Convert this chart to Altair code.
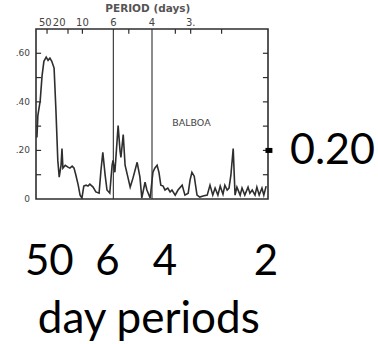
import altair as alt
import pandas as pd

# Spectrum (frequency in cycles/day, normalized power)
freq = [0.002, 0.004, 0.009, 0.013, 0.017, 0.022, 0.026, 0.030, 0.034, 0.039,
        0.043, 0.047, 0.050, 0.054, 0.056, 0.058, 0.063, 0.069, 0.073, 0.078,
        0.082, 0.086, 0.091, 0.095, 0.099, 0.103, 0.108, 0.112, 0.116, 0.123,
        0.129, 0.136, 0.140, 0.144, 0.149, 0.153, 0.159, 0.164, 0.166, 0.170,
        0.177, 0.181, 0.183, 0.188, 0.192, 0.198, 0.203, 0.209, 0.218, 0.224,
        0.228, 0.235, 0.239, 0.246, 0.252, 0.256, 0.261, 0.265, 0.269, 0.274,
        0.278, 0.284, 0.289, 0.293, 0.300, 0.306, 0.315, 0.321, 0.328, 0.332,
        0.336, 0.341, 0.347, 0.353, 0.360, 0.369, 0.375, 0.381, 0.386, 0.392,
        0.397, 0.403, 0.407, 0.412, 0.416, 0.420, 0.425, 0.429, 0.433, 0.440,
        0.444, 0.450, 0.457, 0.461, 0.466, 0.472, 0.476, 0.481, 0.487, 0.491,
        0.496]
power = [0.253, 0.343, 0.404, 0.506, 0.567, 0.584, 0.571, 0.580, 0.567, 0.539,
         0.363, 0.159, 0.090, 0.139, 0.208, 0.127, 0.139, 0.131, 0.127, 0.135,
         0.127, 0.098, 0.057, 0.016, 0.004, 0.053, 0.057, 0.053, 0.061, 0.049,
         0.029, 0.024, 0.118, 0.192, 0.098, 0.037, 0.024, 0.139, 0.159, 0.110,
         0.302, 0.200, 0.171, 0.265, 0.139, 0.090, 0.049, 0.086, 0.151, 0.090,
         0.004, 0.069, 0.037, 0.004, 0.110, 0.127, 0.139, 0.110, 0.057, 0.053,
         0.037, 0.045, 0.029, 0.037, 0.016, 0.037, 0.057, 0.016, 0.024, 0.078,
         0.110, 0.094, 0.016, 0.008, 0.012, 0.016, 0.057, 0.016, 0.045, 0.016,
         0.053, 0.020, 0.057, 0.037, 0.045, 0.098, 0.208, 0.016, 0.049, 0.016,
         0.045, 0.016, 0.049, 0.024, 0.037, 0.016, 0.049, 0.016, 0.045, 0.016,
         0.053]

top_periods = [50, 20, 10, 6, 4, 3]
top_texts = ["50", "20", "10", "6", "4", "3."]
top_title = "PERIOD (days)"
tick_periods = [42, 14.5, 10, 5, 3.33, 3, 2.5]
y_label_vals = [0, 0.2, 0.4, 0.6]
y_label_texts = ["0", ".20", ".40", ".60"]
y_tick_vals = [0.1, 0.2, 0.3, 0.4, 0.5, 0.6]
marked_periods = [6, 4]
station = "BALBOA"
note_text = "0.20"
note_value = 0.20
bottom_periods = [50, 6, 4, 2]
bottom_texts = ["50", "6", "4", "2"]
caption = "day periods"

INK = "#2e2e2e"
XD = [0, 0.5]
YD = [0, 0.7]

spec = pd.DataFrame({"f": freq, "p": power})
xs = alt.Scale(domain=XD, nice=False, zero=False)
ys = alt.Scale(domain=YD, nice=False)


def X(**kw):
    return alt.X(scale=xs, axis=None, **kw)


def Y(**kw):
    return alt.Y(scale=ys, axis=None, **kw)


frame = alt.Chart(pd.DataFrame({"a": [0]})).mark_rect(
    fill=None, stroke=INK, strokeWidth=1.6
).encode(x=X(datum=XD[0]), x2=alt.X2(datum=XD[1]), y=Y(datum=YD[0]), y2=alt.Y2(datum=YD[1]))

line = alt.Chart(spec).mark_line(color=INK, strokeWidth=1.6, clip=True).encode(
    x=X(field="f", type="quantitative"),
    y=Y(field="p", type="quantitative"),
)

top_df = pd.DataFrame({"f": [1.0 / p for p in top_periods], "t": top_texts})
top_labels = alt.Chart(top_df).mark_text(
    font="DejaVu Sans", fontSize=10, color="#444", align="center", baseline="bottom", dy=-1
).encode(x=X(field="f", type="quantitative"), y=Y(datum=YD[1]), text="t:N")

title_txt = alt.Chart(pd.DataFrame({"t": [top_title]})).mark_text(
    font="DejaVu Sans", fontSize=10.5, fontWeight="bold", color="#555",
    align="center", baseline="middle", dy=-20
).encode(x=X(datum=0.241), y=Y(datum=YD[1]), text="t:N")

tick_df = pd.DataFrame({"f": [1.0 / p for p in tick_periods]})
top_ticks = alt.Chart(tick_df).mark_rule(color=INK, strokeWidth=1.2).encode(
    x=X(field="f", type="quantitative"),
    y=Y(datum=YD[1]),
    y2=alt.Y2(datum=0.68),
)

ytick_df = pd.DataFrame({"v": y_tick_vals})
left_ticks = alt.Chart(ytick_df).mark_rule(color=INK, strokeWidth=1.2).encode(
    x=X(datum=0), x2=alt.X2(datum=0.011), y=Y(field="v", type="quantitative"))
right_ticks = alt.Chart(ytick_df).mark_rule(color=INK, strokeWidth=1.2).encode(
    x=X(datum=0.489), x2=alt.X2(datum=0.5), y=Y(field="v", type="quantitative"))

ylab_df = pd.DataFrame({"v": y_label_vals, "t": y_label_texts})
left_labels = alt.Chart(ylab_df).mark_text(
    font="DejaVu Sans", fontSize=9, color="#444", align="right", baseline="middle", dx=-6
).encode(x=X(datum=0), y=Y(field="v", type="quantitative"), text="t:N")

vdf = pd.DataFrame({"f": [1.0 / p for p in marked_periods]})
vlines = alt.Chart(vdf).mark_rule(color=INK, strokeWidth=1.1).encode(
    x=X(field="f", type="quantitative"), y=Y(datum=YD[0]), y2=alt.Y2(datum=YD[1]))

station_txt = alt.Chart(pd.DataFrame({"t": [station]})).mark_text(
    font="DejaVu Sans", fontSize=9.5, color="#444", align="center", baseline="middle"
).encode(x=X(datum=0.335), y=Y(datum=0.312), text="t:N")

dash = alt.Chart(pd.DataFrame({"v": [note_value]})).mark_rule(
    color="black", strokeWidth=5
).encode(x=X(datum=0.4945), x2=alt.X2(datum=0.5095), y=Y(field="v", type="quantitative"))

note = alt.Chart(pd.DataFrame({"t": [note_text], "v": [note_value]})).mark_text(
    font="Lato", fontSize=43, color="black", align="left", baseline="alphabetic",
    dx=22, dy=14
).encode(x=X(datum=0.5), y=Y(field="v", type="quantitative"), text="t:N")

bottom_dx = [4, -6, 13, -2]
bottom_layers = []
for per, txt, dx in zip(bottom_periods, bottom_texts, bottom_dx):
    bottom_layers.append(
        alt.Chart(pd.DataFrame({"f": [1.0 / per], "t": [txt]})).mark_text(
            font="Lato", fontSize=42, color="black", align="center",
            baseline="alphabetic", dx=dx, dy=76
        ).encode(x=X(field="f", type="quantitative"), y=Y(datum=0), text="t:N")
    )

cap = alt.Chart(pd.DataFrame({"t": [caption]})).mark_text(
    font="Lato", fontSize=44, color="black", align="center", baseline="alphabetic", dy=134
).encode(x=X(datum=0.243), y=Y(datum=0), text="t:N")

chart = alt.layer(
    vlines, line, frame, top_ticks, left_ticks, right_ticks, top_labels, title_txt,
    left_labels, station_txt, dash, note, cap, *bottom_layers
).properties(
    width=232, height=170,
    autosize=alt.AutoSizeParams(type="none"),
    padding={"left": 36, "top": 29, "right": 110, "bottom": 145},
    background="white",
).configure_view(stroke=None)

chart.save("out.html", embed_options={"renderer": "svg", "actions": False})
